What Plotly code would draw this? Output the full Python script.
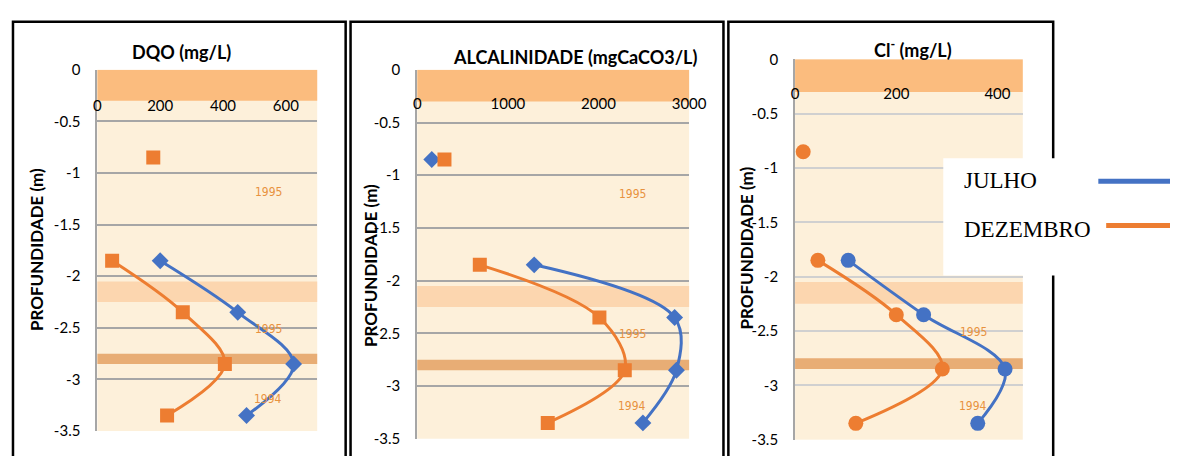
import plotly.graph_objects as go

W, H = 1178, 456
OFF = 8  # page body margin of the rendered html

# ---------------- data ----------------
depth = [-0.85, -1.35, -1.85, -2.35, -2.85, -3.35]

dqo_julho = [None, None, 200, 447, 625, 475]
dqo_dezembro = [178, None, 47, 272, 406, 222]

alc_julho = [160, None, 1290, 2840, 2860, 2490]
alc_dezembro = [300, None, 690, 2010, 2290, 1440]

cl_julho = [None, None, 105, 254, 415, 361]
cl_dezembro = [16, None, 45, 200, 291, 120]

y_tickvals = [0, -0.5, -1, -1.5, -2, -2.5, -3, -3.5]
y_ticktext = ["0", "-0.5", "-1", "-1.5", "-2", "-2.5", "-3", "-3.5"]

dqo_ticks = [0, 200, 400, 600]
alc_ticks = [0, 1000, 2000, 3000]
cl_ticks = [0, 200, 400]

titles = ["DQO (mg/L)", "ALCALINIDADE (mgCaCO3/L)", "Cl<sup>-</sup> (mg/L)"]
y_title = "PROFUNDIDADE (m)"
series_names = ["JULHO", "DEZEMBRO"]

# soil layer bands (background of the profile)
band_top = [0, -2.05, -2.75]
band_bottom = [-0.3, -2.25, -2.85]
band_colors = ["#FBBC7E", "#FCD6AF", "#E8AD75"]

year_labels = ["1995", "1995", "1994"]
year_depths = [-1.18, -2.51, -3.19]

# ---------------- style ----------------
BLUE = "#4472C4"
ORANGE = "#ED7D31"
CREAM = "#FDF0DA"
FONT = "Lato"


def px(x):
    return (x - OFF) / W


def py(y):
    return 1 - (y - OFF) / H


fig = go.Figure()

panels = [
    dict(jul=dqo_julho, dez=dqo_dezembro, ticks=dqo_ticks, rng=[0, 700],
         sym_j="diamond", sym_d="square", xd=[95, 319], yd=[62, 438], lab=88,
         grid="#A6A6A6", title_xy=(181, 43), ytitle_xy=(33, 249), years=[0, 1, 2]),
    dict(jul=alc_julho, dez=alc_dezembro, ticks=alc_ticks, rng=[0, 3000],
         sym_j="diamond", sym_d="square", xd=[421, 698], yd=[62, 446], lab=86,
         grid="#A6A6A6", title_xy=(582, 49), ytitle_xy=(374, 266), years=[0, 1, 2]),
    dict(jul=cl_julho, dez=cl_dezembro, ticks=cl_ticks, rng=[0, 450],
         sym_j="circle", sym_d="circle", xd=[806, 1038], yd=[51, 447], lab=76,
         grid="#D0D0D0", title_xy=(926, 40), ytitle_xy=(757, 248), years=[1, 2]),
]

annotations = []
shapes = []

for i, p in enumerate(panels):
    n = "" if i == 0 else str(i + 1)
    xa, ya = "x" + n, "y" + n
    for vals, sym, col, nm, sz in [
        (p["jul"], p["sym_j"], BLUE, series_names[0], 13 if p["sym_j"] == "diamond" else 15),
        (p["dez"], p["sym_d"], ORANGE, series_names[1], 14 if p["sym_d"] == "square" else 15),
    ]:
        fig.add_trace(go.Scatter(
            x=vals, y=depth, mode="lines+markers", name=nm, showlegend=False,
            line=dict(color=col, width=3, shape="spline", smoothing=1.0),
            marker=dict(symbol=sym, size=sz, color=col),
            connectgaps=False, xaxis=xa, yaxis=ya,
        ))

    fig.layout["xaxis" + n] = dict(
        domain=[px(p["xd"][0]), px(p["xd"][1])], range=p["rng"],
        anchor="free", position=py(p["lab"]), side="bottom",
        tickvals=p["ticks"], ticks="", showline=False, showgrid=False,
        zeroline=False, tickfont=dict(family=FONT, size=15, color="#000000"),
        fixedrange=True,
    )
    fig.layout["yaxis" + n] = dict(
        domain=[py(p["yd"][1]), py(p["yd"][0])], range=[-3.5, 0],
        anchor=xa, tickvals=y_tickvals, ticktext=y_ticktext, ticks="",
        showline=True, linecolor="#A6A6A6", linewidth=2,
        showgrid=True, gridcolor=p["grid"], gridwidth=1.5, zeroline=False,
        ticklabelstandoff=12,
        tickfont=dict(family=FONT, size=15, color="#000000"), fixedrange=True,
    )

    for t, b, c in zip(band_top, band_bottom, band_colors):
        shapes.append(dict(type="rect", xref=xa + " domain", yref=ya,
                           x0=0, x1=1, y0=b, y1=t, fillcolor=c,
                           line=dict(width=0), layer="below"))

    for k in p["years"]:
        annotations.append(dict(text=year_labels[k], xref=xa + " domain", yref=ya,
                                x=0.85, y=year_depths[k], showarrow=False,
                                font=dict(family="DejaVu Sans Condensed, Liberation Sans Narrow, Liberation Sans",
                                          size=12, color="#E8923E")))

    annotations.append(dict(text="<b>" + titles[i] + "</b>", xref="paper", yref="paper",
                            x=px(p["title_xy"][0]), y=py(p["title_xy"][1]),
                            showarrow=False, xanchor="center", yanchor="middle",
                            font=dict(family=FONT, size=18, color="#000000")))
    annotations.append(dict(text="<b>" + y_title + "</b>", xref="paper", yref="paper",
                            x=px(p["ytitle_xy"][0]), y=py(p["ytitle_xy"][1]),
                            textangle=-90, showarrow=False,
                            xanchor="center", yanchor="middle",
                            font=dict(family=FONT, size=17, color="#000000")))

# panel borders
for x0, x1 in [(9, 348), (353, 733), (738, 1069)]:
    shapes.append(dict(type="rect", xref="paper", yref="paper",
                       x0=px(x0), x1=px(x1), y0=py(490), y1=py(12),
                       line=dict(color="#000000", width=2.5), layer="above"))

# legend box
shapes.append(dict(type="rect", xref="paper", yref="paper",
                   x0=px(957), x1=px(1200), y0=py(276), y1=py(154),
                   fillcolor="#FFFFFF", line=dict(width=0), layer="above"))
shapes.append(dict(type="line", xref="paper", yref="paper",
                   x0=px(1115), x1=px(1190), y0=py(178), y1=py(178),
                   line=dict(color=BLUE, width=5), layer="above"))
shapes.append(dict(type="line", xref="paper", yref="paper",
                   x0=px(1123), x1=px(1190), y0=py(224), y1=py(224),
                   line=dict(color=ORANGE, width=5), layer="above"))
for nm, yy in zip(series_names, [177, 228]):
    annotations.append(dict(text=nm, xref="paper", yref="paper",
                            x=px(976), y=py(yy), xanchor="left", yanchor="middle",
                            showarrow=False,
                            font=dict(family="Liberation Serif", size=23, color="#000000")))

fig.update_layout(
    width=W, height=H, margin=dict(l=0, r=0, t=0, b=0),
    paper_bgcolor="#FFFFFF", plot_bgcolor=CREAM,
    showlegend=False, shapes=shapes, annotations=annotations,
)

fig.write_html("out.html")
